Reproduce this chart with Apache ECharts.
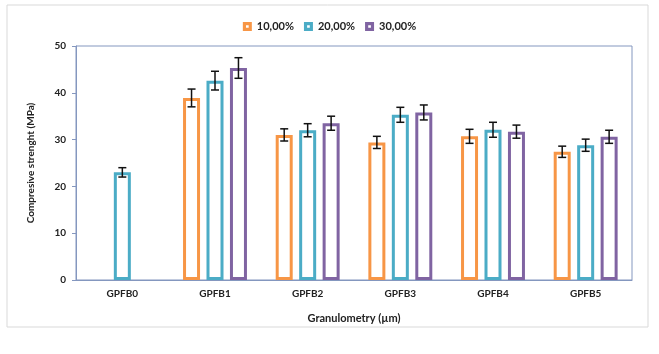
<!DOCTYPE html>
<html>
<head>
<meta charset="utf-8">
<script src="https://cdn.jsdelivr.net/npm/echarts@6/dist/echarts.min.js"></script>
<style>
  html, body { margin: 0; padding: 0; background: #fff; }
  #chart { width: 659px; height: 354px; }
</style>
</head>
<body>
<div id="chart"></div>
<script>
var chart = echarts.init(document.getElementById('chart'));

// data
var categories = ['GPFB0', 'GPFB1', 'GPFB2', 'GPFB3', 'GPFB4', 'GPFB5'];
var seriesNames = ['10,00%', '20,00%', '30,00%'];
var val10 = [null, 38.9, 31.0, 29.4, 30.7, 27.4];
var val20 = [23.0, 42.6, 32.0, 35.3, 32.1, 28.8];
var val30 = [null, 45.3, 33.5, 35.8, 31.7, 30.6];
var err10 = [null, 1.9, 1.3, 1.3, 1.5, 1.2];
var err20 = [1.0, 2.0, 1.4, 1.6, 1.6, 1.3];
var err30 = [null, 2.2, 1.5, 1.6, 1.4, 1.4];

var colors = ['#F79646', '#4BACC6', '#8064A2'];
var axisColor = '#8497bf';
var font = 'Lato, "Liberation Sans", sans-serif';

var barW = 17;
var gapRatio = 0.38;
var values = [val10, val20, val30];
var errors = [err10, err20, err30];

var series = [];
values.forEach(function (vals, i) {
    series.push({
        name: seriesNames[i],
        type: 'bar',
        data: vals,
        barWidth: barW,
        barGap: (gapRatio * 100) + '%',
        itemStyle: {
            color: '#fff',
            borderColor: colors[i],
            borderWidth: 3
        }
    });
});

// error bars, one custom series per group, shifted to the bar centre
values.forEach(function (vals, i) {
    var data = [];
    vals.forEach(function (v, k) {
        if (v != null) data.push([k, v - errors[i][k], v + errors[i][k]]);
    });
    var offset = (i - 1) * barW * (1 + gapRatio);
    series.push({
        type: 'custom',
        silent: true,
        z: 5,
        data: data,
        renderItem: function (params, api) {
            var lo = api.coord([api.value(0), api.value(1)]);
            var hi = api.coord([api.value(0), api.value(2)]);
            var x = lo[0] + offset;
            var cap = 4;
            var st = { stroke: '#111', lineWidth: 1.5 };
            return {
                type: 'group',
                children: [
                    { type: 'line', shape: { x1: x, y1: lo[1], x2: x, y2: hi[1] }, style: st },
                    { type: 'line', shape: { x1: x - cap, y1: lo[1], x2: x + cap, y2: lo[1] }, style: st },
                    { type: 'line', shape: { x1: x - cap, y1: hi[1], x2: x + cap, y2: hi[1] }, style: st }
                ]
            };
        }
    });
});

var legendIcon = 'path://M0,0H10V10H0Z M3.5,3.5V6.5H6.5V3.5Z';

chart.setOption({
    animation: false,
    textStyle: { fontFamily: font },
    graphic: [{
        type: 'rect',
        shape: { x: 7, y: 5, width: 641, height: 322 },
        style: { fill: 'none', stroke: '#d9d9d9', lineWidth: 1 },
        silent: true
    }],
    legend: {
        top: 16,
        left: 'center',
        itemWidth: 9,
        itemHeight: 9,
        itemGap: 10,
        textStyle: { fontSize: 11, fontWeight: 'bold', color: '#222', fontFamily: font },
        data: seriesNames.map(function (n, i) {
            return { name: n, icon: legendIcon, itemStyle: { color: colors[i], borderWidth: 0 } };
        })
    },
    grid: {
        left: 76,
        right: 27,
        top: 46,
        bottom: 74,
        show: true,
        borderColor: axisColor,
        borderWidth: 1,
        backgroundColor: 'transparent'
    },
    xAxis: {
        type: 'category',
        data: categories,
        name: 'Granulometry (µm)',
        nameLocation: 'middle',
        nameGap: 33,
        nameTextStyle: { fontSize: 11, fontWeight: 'bold', color: '#222', fontFamily: font },
        axisLine: { lineStyle: { color: axisColor } },
        axisTick: { show: false },
        axisLabel: { fontSize: 10, fontWeight: 'bold', color: '#222', margin: 9 }
    },
    yAxis: {
        type: 'value',
        min: 0,
        max: 50,
        interval: 10,
        name: 'Compresive strenght (MPa)',
        nameLocation: 'middle',
        nameGap: 40,
        nameTextStyle: { fontSize: 10, fontWeight: 'bold', color: '#222', fontFamily: font },
        axisLine: { show: true, lineStyle: { color: axisColor } },
        axisTick: { show: true, length: 4, lineStyle: { color: axisColor } },
        splitLine: { show: false },
        axisLabel: { fontSize: 10, fontWeight: 'bold', color: '#222', margin: 10 }
    },
    series: series
});
</script>
</body>
</html>
